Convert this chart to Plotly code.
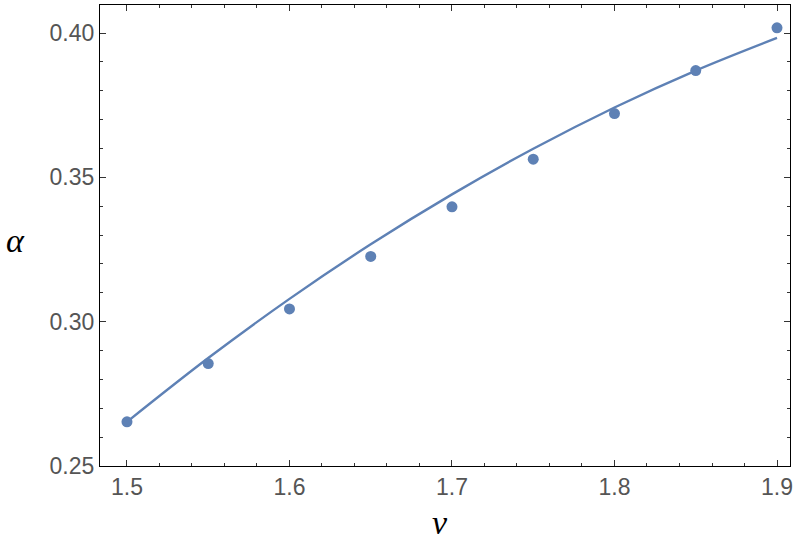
import plotly.graph_objects as go

# dados
nu_pontos = [1.5, 1.55, 1.6, 1.65, 1.7, 1.75, 1.8, 1.85, 1.9]
alpha_pontos = [0.2653, 0.2855, 0.3044, 0.3226, 0.3398, 0.3563, 0.3721, 0.3870, 0.4018]

# curva ajustada (valores lidos ao longo da linha)
nu_curva = [1.5, 1.55, 1.6, 1.65, 1.7, 1.75, 1.8, 1.85, 1.9]
alpha_curva = [0.2653, 0.2874, 0.3079, 0.3268, 0.3441, 0.3599, 0.3742, 0.3870, 0.3983]

x_ticks = [1.5, 1.6, 1.7, 1.8, 1.9]
y_ticks = [0.25, 0.30, 0.35, 0.40]

cor = "#5E81B5"

fig = go.Figure()
fig.add_trace(go.Scatter(x=nu_curva, y=alpha_curva, mode="lines",
                         line=dict(color=cor, width=2.4, shape="spline")))
fig.add_trace(go.Scatter(x=nu_pontos, y=alpha_pontos, mode="markers",
                         marker=dict(color=cor, size=11)))

eixo = dict(showline=True, linecolor="black", linewidth=1.3, mirror="ticks",
            ticks="inside", ticklen=6, tickwidth=1, tickcolor="#333",
            showgrid=False, zeroline=False,
            tickfont=dict(family="Liberation Sans", size=23, color="#555555"))

fig.update_xaxes(eixo, range=[1.4834, 1.908], tickvals=x_ticks,
                 ticktext=[f"{v:.1f}" for v in x_ticks],
                 minor=dict(dtick=0.02, tick0=1.5, ticks="inside", ticklen=3, tickcolor="#333"))
fig.update_yaxes(eixo, range=[0.25, 0.4097], tickvals=y_ticks,
                 ticktext=[f"{v:.2f}" for v in y_ticks],
                 minor=dict(dtick=0.01, tick0=0.25, ticks="inside", ticklen=3, tickcolor="#333"))

fig.update_layout(
    width=800, height=538, showlegend=False,
    plot_bgcolor="white", paper_bgcolor="white",
    margin=dict(l=100, r=10, t=5, b=72),
    annotations=[
        dict(text="<i>ν</i>", xref="paper", yref="paper", x=0.493, y=-0.122,
             showarrow=False, yanchor="middle", xanchor="center",
             font=dict(family="Liberation Serif", size=34, color="black")),
        dict(text="<i>α</i>", xref="paper", yref="paper", x=-0.122, y=0.49,
             showarrow=False, xanchor="center", yanchor="middle",
             font=dict(family="Liberation Serif", size=34, color="black")),
    ],
)

# tirar a margem do body para a figura ocupar a janela toda
fig.write_html("out.html", config={"displayModeBar": False},
               post_script="document.body.style.margin='0';")
